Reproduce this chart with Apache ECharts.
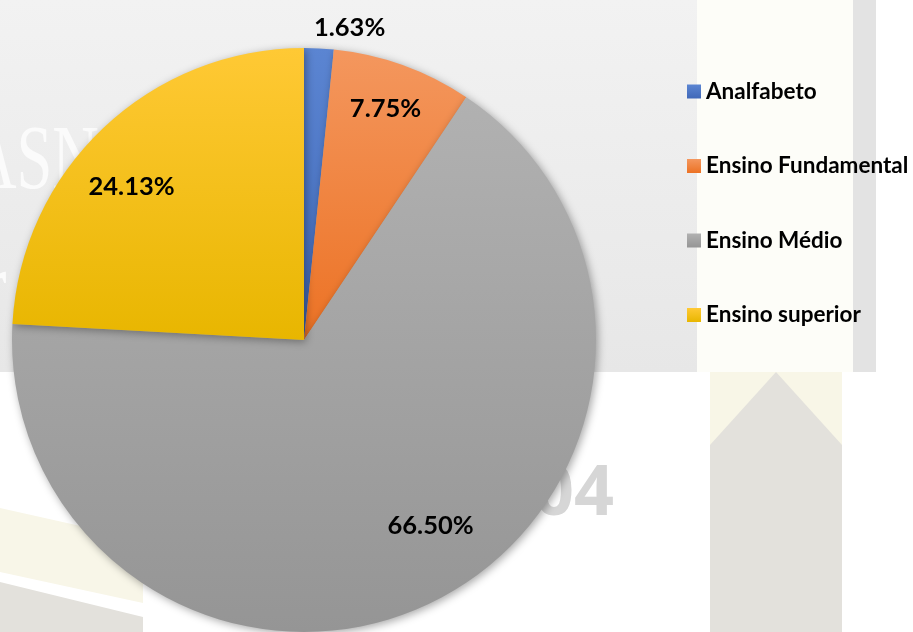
<!DOCTYPE html>
<html>
<head>
<meta charset="utf-8">
<script src="https://cdn.jsdelivr.net/npm/echarts@6/dist/echarts.min.js"></script>
<style>html,body{margin:0;padding:0;background:#fff}#c{width:913px;height:632px}</style>
</head>
<body>
<div id="c"></div>
<script>
const categories = ['Analfabeto', 'Ensino Fundamental', 'Ensino Médio', 'Ensino superior'];
const values = [1.63, 7.75, 66.50, 24.13];
const colorsTop = ['#5b85d2', '#f4975e', '#b1b1b1', '#ffc935'];
const colorsBottom = ['#4068b8', '#ec7224', '#959595', '#e8b600'];
const labelOffsets = [[38, -163], [31, -91], [60, 52], [-70, -45]];

const chart = echarts.init(document.getElementById('c'), null, {renderer: 'canvas'});

function grad(i) {
  return new echarts.graphic.LinearGradient(0, 0, 0, 1, [
    {offset: 0, color: colorsTop[i]},
    {offset: 1, color: colorsBottom[i]}
  ]);
}

const data = categories.map((name, i) => ({
  name: name,
  value: values[i],
  itemStyle: {color: grad(i)},
  label: {offset: labelOffsets[i]}
}));

chart.setOption({
  backgroundColor: '#ffffff',
  animation: false,
  graphic: [
    {type: 'rect', z: 0, shape: {x: 0, y: 0, width: 697, height: 372},
      style: {fill: new echarts.graphic.LinearGradient(0, 0, 0, 1, [{offset: 0, color: '#f2f2f2'}, {offset: 1, color: '#e7e7e7'}])}},
    {type: 'rect', z: 0, shape: {x: 697, y: 0, width: 156, height: 372}, style: {fill: '#fdfdf8'}},
    {type: 'rect', z: 0, shape: {x: 853, y: 0, width: 23, height: 372}, style: {fill: '#e3e3e3'}},
    {type: 'rect', z: 0, shape: {x: 710, y: 372, width: 132, height: 260}, style: {fill: '#f8f6e7'}},
    {type: 'polygon', z: 0, shape: {points: [[710, 445], [776, 372], [842, 445], [842, 632], [710, 632]]}, style: {fill: '#e3e1dc'}},
    {type: 'polygon', z: 0, shape: {points: [[0, 508], [143, 540], [143, 603], [0, 572]]}, style: {fill: '#f8f6e8'}},
    {type: 'polygon', z: 0, shape: {points: [[0, 582], [143, 617], [143, 632], [0, 632]]}, style: {fill: '#e3e1dc'}},
    {type: 'text', z: 0, x: -30, y: 118, scaleX: 0.7, style: {text: 'ASN', font: '92px "Liberation Serif"', fill: '#fbfbfb'}},
    {type: 'text', z: 0, x: -18, y: 245, scaleX: 0.8, style: {text: 'r', font: '92px "Liberation Serif"', fill: '#fbfbfb'}},
    {type: 'text', z: 0, x: 534, y: 460, style: {text: '04', font: 'bold 70px "Open Sans"', fill: '#d6d6d6'}}
  ],
  legend: {
    orient: 'vertical',
    left: 687,
    top: 80,
    padding: 0,
    itemWidth: 14,
    itemHeight: 14,
    itemGap: 51.5,
    icon: 'rect',
    data: categories,
    textStyle: {fontFamily: 'Lato', fontWeight: 'bold', fontSize: 22.5, color: '#000', lineHeight: 22}
  },
  series: [{
    type: 'pie',
    center: [304, 340],
    radius: 292,
    startAngle: 90,
    clockwise: true,
    avoidLabelOverlap: false,
    itemStyle: {shadowBlur: 8, shadowColor: 'rgba(0,0,0,0.35)', shadowOffsetX: 2, shadowOffsetY: 2, borderWidth: 0},
    label: {
      show: true,
      position: 'inside',
      fontFamily: 'Lato',
      fontWeight: 'bold',
      fontSize: 25.5,
      color: '#000',
      formatter: p => p.value.toFixed(2) + '%'
    },
    labelLine: {show: false},
    emphasis: {disabled: true},
    data: data
  }]
});
</script>
</body>
</html>
